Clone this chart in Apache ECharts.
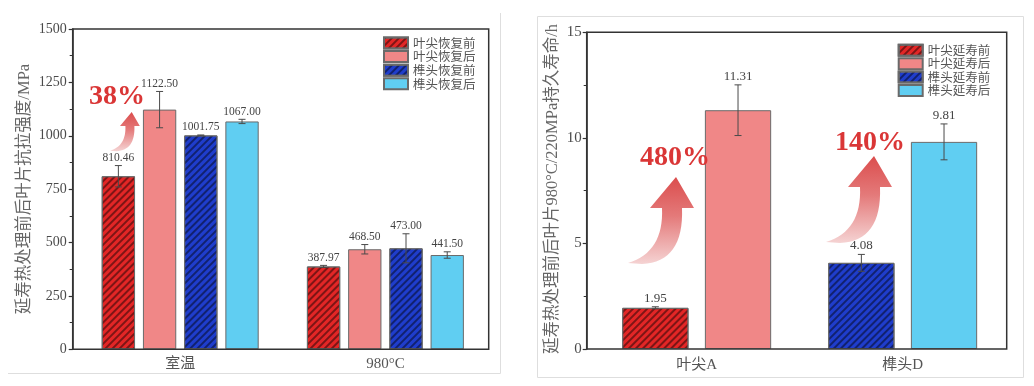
<!DOCTYPE html>
<html>
<head>
<meta charset="utf-8">
<script src="https://cdn.jsdelivr.net/npm/echarts@6/dist/echarts.min.js"></script>
<style>html,body{margin:0;padding:0;background:#fff;}#c{width:1034px;height:386px;}</style>
</head>
<body>
<div id="c"></div>
<script>
// ---------- data: left chart (tensile strength) ----------
const catsL = ['室温', '980°C'];
const namesL = ['叶尖恢复前', '叶尖恢复后', '榫头恢复前', '榫头恢复后'];
const valsL = [
  [810.46, 387.97],
  [1122.50, 468.50],
  [1001.75, 473.00],
  [1067.00, 441.50]
];
const errsL = [
  [50, 5],
  [85, 22],
  [2, 68],
  [10, 15]
];
const yMinL = 0, yMaxL = 1500, yStepL = 250;

// ---------- data: right chart (stress rupture life) ----------
const catsR = ['叶尖A', '榫头D'];
const namesR = ['叶尖延寿前', '叶尖延寿后', '榫头延寿前', '榫头延寿后'];
const valsR = [1.95, 11.31, 4.08, 9.81];
const errsR = [0.05, 1.2, 0.4, 0.85];
const catOfR = [0, 0, 1, 1];
const slotOfR = [0, 1, 0, 1];
const yMinR = 0, yMaxR = 15, yStepR = 5;

const titleL = '延寿热处理前后叶片抗拉强度/MPa';
const titleR = '延寿热处理前后叶片980°C/220MPa持久寿命/h';
const notes = ['38%', '480%', '140%'];

// ---------- styles ----------
const colors = ['#e32626', '#f08787', '#1f3dcc', '#60cef2'];
const hatched = [true, false, true, false];
const FONT = "'Liberation Serif', 'Noto Sans CJK SC', serif";
const CJK = "'Noto Sans CJK SC', 'Liberation Serif', sans-serif";

const catGapL = 0.235, barGapL = 0.237;
const catGapR = 0.277, barGapR = 0.247;

// plot frames (layout)
const frameL = { x: 72.7, y: 29, w: 416, h: 320.3 };
const frameR = { x: 586.7, y: 32.3, w: 420, h: 316.7 };
const gridL = { left: 77.6, width: 410.4 };
const gridR = { left: 593.7, width: 412 };

function itemStyleFor(i) {
  const s = { color: colors[i], borderColor: '#6a6a6a', borderWidth: 1 };
  if (hatched[i]) {
    s.decal = {
      symbol: 'rect', symbolSize: 1,
      dashArrayX: [[1, 0]], dashArrayY: [1.2, 2.6],
      rotation: -Math.PI / 4,
      color: 'rgba(0,0,0,0.45)'
    };
  }
  return s;
}

function errSeries(gi, nSlots, slot, catGap, barGap, data, fontSize, cap) {
  return {
    type: 'custom', xAxisIndex: gi, yAxisIndex: gi, z: 10, silent: true,
    data: data, encode: { x: 0, y: 1 },
    renderItem: function (params, api) {
      const cat = api.value(0), v = api.value(1), e = api.value(2);
      const band = api.size([1, 0])[0];
      const groupW = band * (1 - catGap);
      const w = groupW / (nSlots + (nSlots - 1) * barGap);
      const c = api.coord([cat, v]);
      const x = c[0] - groupW / 2 + slot * w * (1 + barGap) + w / 2;
      const yT = api.coord([cat, v + e])[1];
      const yB = api.coord([cat, v - e])[1];
      const ls = { stroke: '#4a4a4a', lineWidth: 1 };
      return {
        type: 'group', children: [
          { type: 'line', shape: { x1: x, y1: yT, x2: x, y2: yB }, style: ls },
          { type: 'line', shape: { x1: x - cap, y1: yT, x2: x + cap, y2: yT }, style: ls },
          { type: 'line', shape: { x1: x - cap, y1: yB, x2: x + cap, y2: yB }, style: ls },
          { type: 'text', x: x, y: yT - 2, style: { text: v.toFixed(2), align: 'center', verticalAlign: 'bottom', fontSize: fontSize, fontFamily: FONT, fill: '#444' } }
        ]
      };
    }
  };
}

const series = [];
namesL.forEach((n, i) => {
  series.push({ name: n, type: 'bar', xAxisIndex: 0, yAxisIndex: 0, data: valsL[i],
    barCategoryGap: (catGapL * 100) + '%', barGap: (barGapL * 100) + '%',
    itemStyle: itemStyleFor(i) });
});
namesR.forEach((n, i) => {
  const d = catsR.map((c, k) => k === catOfR[i] ? valsR[i] : '-');
  series.push({ name: n, type: 'bar', xAxisIndex: 1, yAxisIndex: 1, data: d,
    stack: 'slot' + slotOfR[i],
    barCategoryGap: (catGapR * 100) + '%', barGap: (barGapR * 100) + '%',
    itemStyle: itemStyleFor(i) });
});
namesL.forEach((n, i) => {
  series.push(errSeries(0, 4, i, catGapL, barGapL,
    catsL.map((c, k) => [k, valsL[i][k], errsL[i][k]]), 11.5, 3.5));
});
namesR.forEach((n, i) => {
  series.push(errSeries(1, 2, slotOfR[i], catGapR, barGapR,
    [[catOfR[i], valsR[i], errsR[i]]], 13, 3.5));
});

function yAxisFor(gi, mn, mx, st, fs, margin, off) {
  return {
    type: 'value', gridIndex: gi, min: mn, max: mx, interval: st, offset: off,
    axisLine: { show: true, lineStyle: { color: '#333', width: 1.5 } },
    axisTick: { show: true, inside: false, length: 4, lineStyle: { color: '#333', width: 1.2 } },
    minorTick: { show: true, splitNumber: 2, length: 3, lineStyle: { color: '#333', width: 1 } },
    splitLine: { show: false },
    axisLabel: { fontFamily: FONT, fontSize: fs, color: '#4a4a4a', margin: margin, formatter: (v) => String(v) }
  };
}
function xAxisFor(gi, cats, margin) {
  return {
    type: 'category', gridIndex: gi, data: cats,
    axisLine: { show: false },
    axisTick: { show: false },
    axisLabel: { fontFamily: FONT, fontSize: 15, color: '#555', margin: margin }
  };
}

// curved arrow outline (relative to tip), sampled quadratic curves
function quad(p0, c, p2, n) {
  const pts = [];
  for (let k = 0; k <= n; k++) {
    const t = k / n, u = 1 - t;
    pts.push([u * u * p0[0] + 2 * u * t * c[0] + t * t * p2[0], u * u * p0[1] + 2 * u * t * c[1] + t * t * p2[1]]);
  }
  return pts;
}
const arrowPts = [].concat(
  quad([-14, 31], [-12, 75], [-48, 86], 16),
  quad([-34, 87], [8, 85], [6, 31], 16),
  [[18, 31], [0, 0], [-26, 31]]
);
const arrowFill = {
  type: 'linear', x: 0, y: 0, x2: 0, y2: 1,
  colorStops: [
    { offset: 0, color: '#db4d4d' },
    { offset: 0.45, color: '#e47a7a' },
    { offset: 1, color: '#f5d3d3' }
  ]
};
function arrow(x, y, s) {
  return { type: 'polygon', x: x, y: y, scaleX: s, scaleY: s, z: 20,
    shape: { points: arrowPts }, style: { fill: arrowFill } };
}
function note(text, x, y) {
  return { type: 'text', x: x, y: y, z: 21,
    style: { text: text, fontFamily: FONT, fontWeight: 'bold', fontSize: 28, fill: '#da3636', align: 'left', verticalAlign: 'middle' } };
}
function vtitle(text, x, y) {
  return { type: 'text', x: x, y: y, rotation: Math.PI / 2, z: 5,
    style: { text: text, fontFamily: FONT, fontSize: 16.5, fill: '#666', align: 'center', verticalAlign: 'middle' } };
}
function frame(f) {
  return { type: 'rect', z: 30, shape: { x: f.x, y: f.y, width: f.w, height: f.h },
    style: { fill: 'none', stroke: '#333', lineWidth: 1.5 } };
}

const option = {
  backgroundColor: '#fff',
  animation: false,
  grid: [
    { left: gridL.left, top: frameL.y, width: gridL.width, height: frameL.h, show: false },
    { left: gridR.left, top: frameR.y, width: gridR.width, height: frameR.h, show: false }
  ],
  xAxis: [xAxisFor(0, catsL, 7), xAxisFor(1, catsR, 9)],
  yAxis: [
    yAxisFor(0, yMinL, yMaxL, yStepL, 14, 6, gridL.left - frameL.x),
    yAxisFor(1, yMinR, yMaxR, yStepR, 15, 5, gridR.left - frameR.x)
  ],
  legend: [
    { data: namesL, orient: 'vertical', left: 383, top: 36.5, padding: 0, itemWidth: 24, itemHeight: 11, itemGap: 0.6,
      icon: 'rect', textStyle: { fontFamily: CJK, fontSize: 12.5, color: '#555', lineHeight: 11 } },
    { data: namesR, orient: 'vertical', left: 897.7, top: 43.8, padding: 0, itemWidth: 24, itemHeight: 11, itemGap: 0.4,
      icon: 'rect', textStyle: { fontFamily: CJK, fontSize: 12.5, color: '#555', lineHeight: 11 } }
  ],
  series: series,
  graphic: [
    { type: 'line', shape: { x1: 500.5, y1: 13, x2: 500.5, y2: 373.5 }, style: { stroke: '#dedede', lineWidth: 1 } },
    { type: 'line', shape: { x1: 8, y1: 373.5, x2: 500.5, y2: 373.5 }, style: { stroke: '#dedede', lineWidth: 1 } },
    { type: 'rect', shape: { x: 537.5, y: 16.5, width: 486, height: 361 }, style: { fill: 'none', stroke: '#dedede', lineWidth: 1 } },
    frame(frameL),
    frame(frameR),
    vtitle(titleL, 25, 189),
    vtitle(titleR, 553, 189),
    arrow(131.7, 112, 0.45),
    arrow(676, 177, 1),
    arrow(874, 156, 1),
    note(notes[0], 89, 96.5),
    note(notes[1], 640, 157.5),
    note(notes[2], 835, 142.5)
  ]
};

const chart = echarts.init(document.getElementById('c'), null, { renderer: 'canvas' });
chart.setOption(option);
</script>
</body>
</html>
